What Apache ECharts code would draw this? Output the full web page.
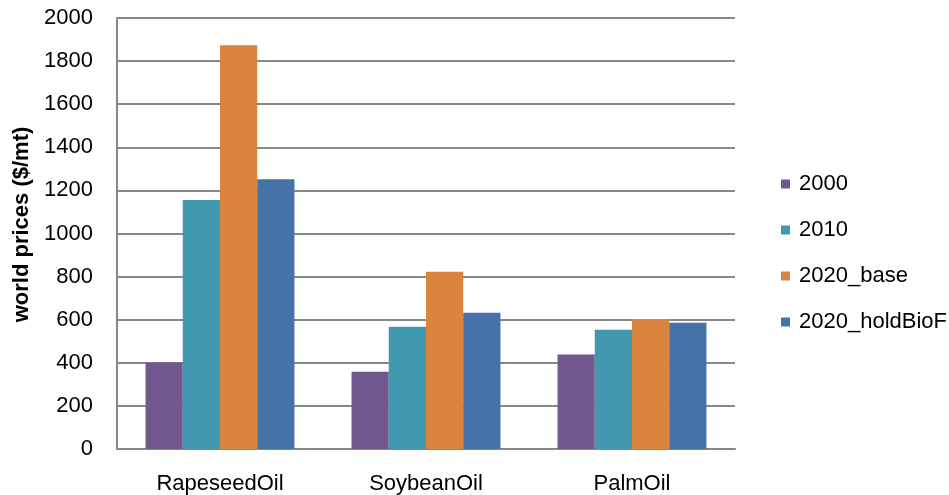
<!DOCTYPE html>
<html><head><meta charset="utf-8">
<script src="https://cdn.jsdelivr.net/npm/echarts@6/dist/echarts.min.js"></script>
<style>html,body{margin:0;padding:0;background:#fff}#c{width:949px;height:495px}</style>
</head><body><div id="c"></div>
<script>
const categories = ['RapeseedOil', 'SoybeanOil', 'PalmOil'];
const seriesNames = ['2000', '2010', '2020_base', '2020_holdBioF'];
const s2000 = [401, 359, 438];
const s2010 = [1156, 567, 553];
const s2020base = [1873, 822, 603];
const s2020hold = [1252, 632, 586];
const yTicks = [0, 200, 400, 600, 800, 1000, 1200, 1400, 1600, 1800, 2000];
const colors = ['#71588F', '#4198AF', '#DB843D', '#4572A7'];
const allData = [s2000, s2010, s2020base, s2020hold];
const font = 'Liberation Sans, Arial, sans-serif';
const chart = echarts.init(document.getElementById('c'));
chart.setOption({
  animation: false,
  color: colors,
  grid: { left: 117, right: 214, top: 18, bottom: 45 },
  legend: {
    orient: 'vertical', left: 776, top: 168, itemWidth: 9, itemHeight: 9, itemGap: 24,
    icon: 'rect',
    textStyle: { fontFamily: font, fontSize: 22, color: '#000', padding: [0, 0, 0, 4] },
    data: seriesNames
  },
  xAxis: {
    type: 'category', data: categories,
    axisLine: { lineStyle: { color: '#888', width: 2 } },
    axisTick: { show: false },
    axisLabel: { fontFamily: font, fontSize: 22, color: '#000', margin: 24 }
  },
  yAxis: {
    type: 'value', min: yTicks[0], max: yTicks[yTicks.length - 1], interval: yTicks[1] - yTicks[0],
    name: 'world prices ($/mt)', nameLocation: 'middle', nameGap: 82, nameRotate: 90,
    nameTextStyle: { fontFamily: font, fontSize: 22, fontWeight: 'bold', color: '#000', padding: [0, 0, 0, 18] },
    axisLine: { show: true, lineStyle: { color: '#888', width: 2 } },
    axisTick: { show: false },
    axisLabel: { fontFamily: font, fontSize: 22, color: '#000', margin: 24, formatter: v => String(v) },
    splitLine: { lineStyle: { color: '#888', width: 2 } }
  },
  series: seriesNames.map((n, i) => ({
    name: n, type: 'bar', data: allData[i], barGap: '0%', barCategoryGap: '27.7%'
  }))
});
</script></body></html>
